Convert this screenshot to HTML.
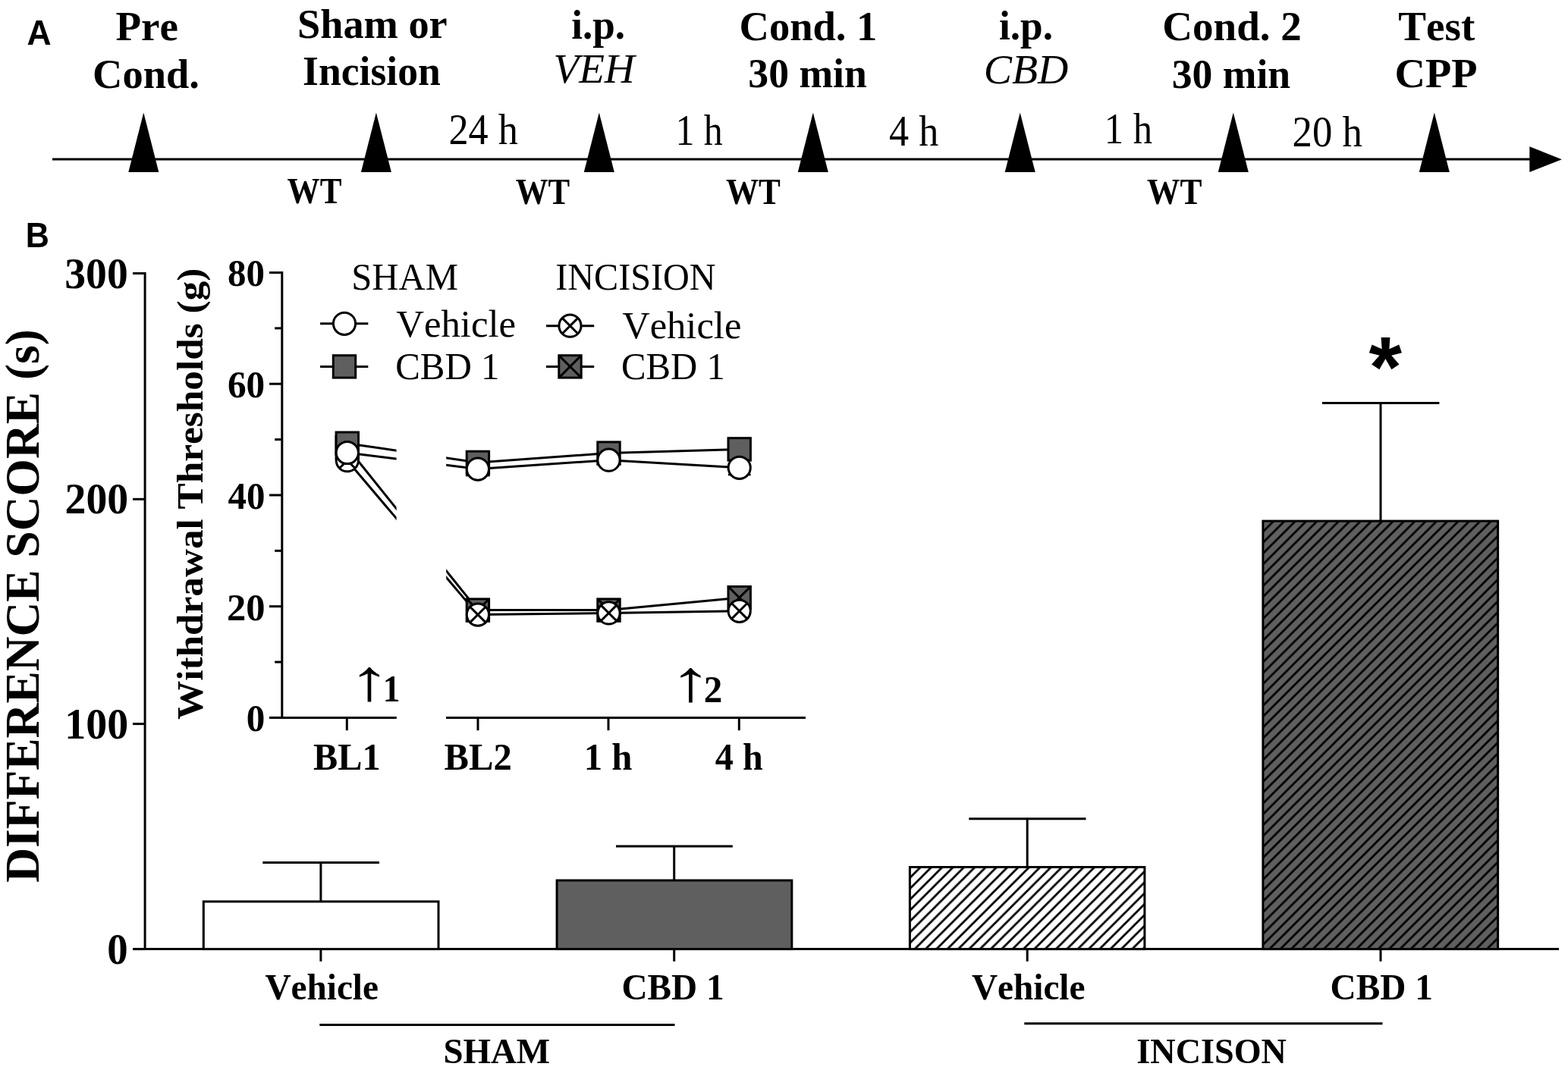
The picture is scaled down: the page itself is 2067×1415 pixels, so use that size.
<!DOCTYPE html>
<html lang="en">
<head>
<meta charset="utf-8">
<title>Conditioned place preference: timeline and difference score</title>
<style>
html,body{margin:0;padding:0;background:#fff;}
body{width:2067px;height:1415px;overflow:hidden;}
svg{display:block;}
text{fill:#000;white-space:pre;font-kerning:none;}
.b{font-family:"Liberation Serif", "DejaVu Serif", serif;font-weight:bold;}
.r{font-family:"Liberation Serif", "DejaVu Serif", serif;font-weight:normal;}
.ri{font-family:"Liberation Serif", "DejaVu Serif", serif;font-weight:normal;font-style:italic;}
.a{font-family:"Liberation Sans", "DejaVu Sans", sans-serif;font-weight:bold;}
line{stroke:#000;}
</style>
</head>
<body>
<svg width="2067" height="1415" viewBox="0 0 2067 1415">
<defs>
<pattern id="hw" width="14.33" height="14.33" patternUnits="userSpaceOnUse" x="6.98" y="0"><rect width="14.33" height="14.33" fill="#fff"/><path d="M-14.33 14.33L14.33 -14.33M0 14.33L14.33 0M0 28.66L28.66 0" stroke="#000" stroke-width="2.8" fill="none"/></pattern>
<pattern id="hg" width="14.33" height="14.33" patternUnits="userSpaceOnUse" x="1.75" y="0"><rect width="14.33" height="14.33" fill="#5f5f5f"/><path d="M-14.33 14.33L14.33 -14.33M0 14.33L14.33 0M0 28.66L28.66 0" stroke="#000" stroke-width="2.8" fill="none"/></pattern>
<clipPath id="brk"><rect x="372" y="340" width="150.6" height="620"/><rect x="588.2" y="340" width="480" height="620"/></clipPath>
</defs>
<rect width="2067" height="1415" fill="#fff"/>
<g id="panel-a">
<text class="a" font-size="45.5" transform="translate(35.54,58.8) scale(0.9775,1)">A</text>
<line x1="69" y1="210.1" x2="2020" y2="210.1" stroke-width="3"/>
<polygon points="2058.9,210.3 2016.3,193.2 2016.3,227" fill="#000"/>
<polygon points="189.3,148.6 209.3,227 169.3,227" fill="#000"/>
<polygon points="495.9,148.6 515.9,227 475.9,227" fill="#000"/>
<polygon points="789.8,148.6 809.8,227 769.8,227" fill="#000"/>
<polygon points="1071.8,148.6 1091.8,227 1051.8,227" fill="#000"/>
<polygon points="1344.7,148.6 1364.7,227 1324.7,227" fill="#000"/>
<polygon points="1625.8,148.6 1645.8,227 1605.8,227" fill="#000"/>
<polygon points="1890.8,148.6 1910.8,227 1870.8,227" fill="#000"/>
<text class="b" font-size="55" transform="translate(152.39,52.6) scale(1.0009,1)">Pre</text>
<text class="b" font-size="55" transform="translate(122.06,115.5) scale(0.9906,1)">Cond.</text>
<text class="b" font-size="55" transform="translate(392,49.8) scale(0.9881,1)">Sham or</text>
<text class="b" font-size="55" transform="translate(399.11,112.3) scale(0.9746,1)">Incision</text>
<text class="b" font-size="55" transform="translate(753.16,50.6) scale(0.9654,1)">i.p.</text>
<text class="ri" font-size="55" transform="translate(729.45,108.7) scale(1.0035,1)">VEH</text>
<text class="b" font-size="55" transform="translate(974.56,52.6) scale(0.9916,1)">Cond. 1</text>
<text class="b" font-size="55" transform="translate(986.34,115.3) scale(0.9760,1)">30 min</text>
<text class="b" font-size="55" transform="translate(1316.95,51.6) scale(0.9683,1)">i.p.</text>
<text class="ri" font-size="55" transform="translate(1296.78,109.9) scale(1.0137,1)">CBD</text>
<text class="b" font-size="55" transform="translate(1532.23,52.8) scale(1.0015,1)">Cond. 2</text>
<text class="b" font-size="55" transform="translate(1544.64,115.8) scale(0.9760,1)">30 min</text>
<text class="b" font-size="55" transform="translate(1843.32,52.6) scale(1.0018,1)">Test</text>
<text class="b" font-size="55" transform="translate(1838.48,115.3) scale(1.0203,1)">CPP</text>
<text class="r" font-size="56" transform="translate(591.43,189.8) scale(0.9324,1)">24 h</text>
<text class="r" font-size="56" transform="translate(890.49,191) scale(0.8898,1)">1 h</text>
<text class="r" font-size="56" transform="translate(1172.11,191.8) scale(0.9314,1)">4 h</text>
<text class="r" font-size="56" transform="translate(1455.72,188.6) scale(0.9037,1)">1 h</text>
<text class="r" font-size="56" transform="translate(1703.61,192.8) scale(0.9418,1)">20 h</text>
<text class="b" font-size="48" transform="translate(378.5,268.4) scale(0.8995,1)">WT</text>
<text class="b" font-size="48" transform="translate(679.71,268.6) scale(0.8944,1)">WT</text>
<text class="b" font-size="48" transform="translate(956.9,268.8) scale(0.8995,1)">WT</text>
<text class="b" font-size="48" transform="translate(1512.1,269.3) scale(0.9059,1)">WT</text>
</g>
<g id="panel-b">
<text class="a" font-size="45.5" transform="translate(33.74,326.3) scale(0.9476,1)">B</text>
<line x1="191.1" y1="359" x2="191.1" y2="1253.1" stroke-width="3"/>
<line x1="175" y1="1251.6" x2="2055" y2="1251.6" stroke-width="3"/>
<line x1="175" y1="1251.6" x2="191.1" y2="1251.6" stroke-width="3"/>
<text class="b" font-size="57" transform="translate(141.29,1271) scale(0.9618,1)">0</text>
<line x1="175" y1="954.6" x2="191.1" y2="954.6" stroke-width="3"/>
<text class="b" font-size="57" transform="translate(85.27,973.97) scale(0.9822,1)">100</text>
<line x1="175" y1="658.3" x2="191.1" y2="658.3" stroke-width="3"/>
<text class="b" font-size="57" transform="translate(85.48,676.93) scale(0.9797,1)">200</text>
<line x1="175" y1="360.5" x2="191.1" y2="360.5" stroke-width="3"/>
<text class="b" font-size="57" transform="translate(85.26,379.9) scale(0.9763,1)">300</text>
<text class="b" font-size="63.5" transform="translate(51.3,1163.76) rotate(-90) scale(0.9992,1)">DIFFERENCE SCORE (s)</text>
<line x1="422.9" y1="1137.6" x2="422.9" y2="1188.9" stroke-width="3"/>
<line x1="346.3" y1="1137.6" x2="500" y2="1137.6" stroke-width="3"/>
<rect x="268.3" y="1188.9" width="309.7" height="62.7" fill="#fff" stroke="#000" stroke-width="3.0"/>
<line x1="422.9" y1="1251.6" x2="422.9" y2="1267.8" stroke-width="3"/>
<line x1="888.7" y1="1115.9" x2="888.7" y2="1161" stroke-width="3"/>
<line x1="812" y1="1115.9" x2="965.8" y2="1115.9" stroke-width="3"/>
<rect x="734.1" y="1161" width="309.7" height="90.6" fill="#5f5f5f" stroke="#000" stroke-width="3.0"/>
<line x1="888.7" y1="1251.6" x2="888.7" y2="1267.8" stroke-width="3"/>
<line x1="1354.2" y1="1079.8" x2="1354.2" y2="1143.5" stroke-width="3"/>
<line x1="1277.3" y1="1079.8" x2="1431.5" y2="1079.8" stroke-width="3"/>
<rect x="1199.4" y="1143.5" width="309.5" height="108.1" fill="url(#hw)" stroke="#000" stroke-width="3.0"/>
<line x1="1354.2" y1="1251.6" x2="1354.2" y2="1267.8" stroke-width="3"/>
<line x1="1820" y1="531.5" x2="1820" y2="687.1" stroke-width="3"/>
<line x1="1743" y1="531.5" x2="1897.4" y2="531.5" stroke-width="3"/>
<rect x="1664.9" y="687.1" width="309.7" height="564.5" fill="url(#hg)" stroke="#000" stroke-width="3.0"/>
<line x1="1820" y1="1251.6" x2="1820" y2="1267.8" stroke-width="3"/>
<text class="b" font-size="48.5" transform="translate(349.38,1317.5) scale(0.9744,1)">Vehicle</text>
<text class="b" font-size="48.5" transform="translate(819.41,1317.5) scale(0.9740,1)">CBD 1</text>
<text class="b" font-size="48.5" transform="translate(1280.88,1317.5) scale(0.9744,1)">Vehicle</text>
<text class="b" font-size="48.5" transform="translate(1753.6,1317.5) scale(0.9748,1)">CBD 1</text>
<line x1="421.3" y1="1351.5" x2="889.5" y2="1351.5" stroke-width="3"/>
<line x1="1350.3" y1="1349.7" x2="1822.5" y2="1349.7" stroke-width="3"/>
<text class="b" font-size="47.3" transform="translate(584.39,1402) scale(0.9913,1)">SHAM</text>
<text class="b" font-size="47.3" transform="translate(1498.35,1402.4) scale(0.9765,1)">INCISON</text>
<text class="a" font-size="113.56" transform="translate(1804.57,522.92) scale(0.9858,1)">*</text>
</g>
<g id="inset">
<line x1="371.8" y1="358" x2="371.8" y2="947.9" stroke-width="3"/>
<line x1="355" y1="946.4" x2="522.8" y2="946.4" stroke-width="3"/>
<line x1="588" y1="946.4" x2="1061.9" y2="946.4" stroke-width="3"/>
<line x1="355" y1="946.4" x2="371.8" y2="946.4" stroke-width="3"/>
<text class="b" font-size="50" transform="translate(324.71,964.3) scale(0.9835,1)">0</text>
<line x1="355" y1="799.67" x2="371.8" y2="799.67" stroke-width="3"/>
<text class="b" font-size="50" transform="translate(298.9,817.57) scale(1.0109,1)">20</text>
<line x1="355" y1="652.95" x2="371.8" y2="652.95" stroke-width="3"/>
<text class="b" font-size="50" transform="translate(300.44,670.85) scale(0.9789,1)">40</text>
<line x1="355" y1="506.22" x2="371.8" y2="506.22" stroke-width="3"/>
<text class="b" font-size="50" transform="translate(299.93,524.12) scale(0.9854,1)">60</text>
<line x1="355" y1="359.5" x2="371.8" y2="359.5" stroke-width="3"/>
<text class="b" font-size="50" transform="translate(300.06,377.4) scale(0.9785,1)">80</text>
<line x1="362.2" y1="873.04" x2="371.8" y2="873.04" stroke-width="3"/>
<line x1="362.2" y1="726.31" x2="371.8" y2="726.31" stroke-width="3"/>
<line x1="362.2" y1="579.59" x2="371.8" y2="579.59" stroke-width="3"/>
<line x1="362.2" y1="432.86" x2="371.8" y2="432.86" stroke-width="3"/>
<text class="b" font-size="49" transform="translate(267,949.12) rotate(-90) scale(1.0467,1)">Withdrawal Thresholds (g)</text>
<line x1="457.3" y1="946.4" x2="457.3" y2="963.2" stroke-width="3"/>
<line x1="630" y1="946.4" x2="630" y2="963.2" stroke-width="3"/>
<line x1="802" y1="946.4" x2="802" y2="963.2" stroke-width="3"/>
<line x1="974.3" y1="946.4" x2="974.3" y2="963.2" stroke-width="3"/>
<text class="b" font-size="50" transform="translate(413.01,1014.9) scale(0.9654,1)">BL1</text>
<text class="b" font-size="50" transform="translate(585.6,1014.9) scale(0.9735,1)">BL2</text>
<text class="b" font-size="50" transform="translate(769.64,1014.9) scale(0.9781,1)">1 h</text>
<text class="b" font-size="50" transform="translate(942.85,1014.9) scale(0.9625,1)">4 h</text>
<text class="r" font-size="77" transform="translate(459.08,922.79) scale(1.4479,1)">↑</text>
<text class="b" font-size="50" transform="translate(504.81,925) scale(0.9088,1)">1</text>
<text class="r" font-size="77" transform="translate(882.16,923.59) scale(1.4590,1)">↑</text>
<text class="b" font-size="50" transform="translate(927.86,925.8) scale(0.9831,1)">2</text>
<text class="r" font-size="50" transform="translate(463.26,381.6) scale(0.9740,1)">SHAM</text>
<text class="r" font-size="50" transform="translate(732.16,382.1) scale(0.9640,1)">INCISION</text>
<text class="r" font-size="50" transform="translate(522.24,443.5) scale(1.0153,1)">Vehicle</text>
<text class="r" font-size="50" transform="translate(521.19,500) scale(0.9788,1)">CBD 1</text>
<text class="r" font-size="50" transform="translate(820.14,446.1) scale(1.0114,1)">Vehicle</text>
<text class="r" font-size="50" transform="translate(819,499.7) scale(0.9751,1)">CBD 1</text>
<line x1="422.1" y1="426.8" x2="485.3" y2="426.8" stroke-width="3"/>
<circle cx="454" cy="426.8" r="14.6" fill="#fff" stroke="#000" stroke-width="3.0"/>
<line x1="422.1" y1="483.4" x2="485.3" y2="483.4" stroke-width="3"/>
<rect x="439.3" y="468.7" width="29.4" height="29.4" fill="#5f5f5f" stroke="#000" stroke-width="3.0"/>
<line x1="720" y1="429.7" x2="783.2" y2="429.7" stroke-width="3"/>
<circle cx="751.5" cy="429.7" r="14.6" fill="#fff" stroke="#000" stroke-width="3.0"/>
<path d="M741.18 419.38L761.82 440.02M741.18 440.02L761.82 419.38" fill="none" stroke="#000" stroke-width="3.0"/>
<line x1="720" y1="483.4" x2="783.2" y2="483.4" stroke-width="3"/>
<rect x="736.8" y="468.7" width="29.4" height="29.4" fill="#5f5f5f" stroke="#000" stroke-width="3.0"/>
<path d="M736.8 468.7L766.2 498.1M736.8 498.1L766.2 468.7" fill="none" stroke="#000" stroke-width="3.0"/>
<g clip-path="url(#brk)">
<polyline points="457.8,607.2 629.9,810.6 802.5,808.4 974.7,805.8" fill="none" stroke="#000" stroke-width="3.0"/>
<polyline points="457.8,590 629.9,804.6 802.5,804.6 974.7,788.2" fill="none" stroke="#000" stroke-width="3.0"/>
<polyline points="457.8,584.7 629.9,609.9 802.5,597.6 974.7,592.4" fill="none" stroke="#000" stroke-width="3.0"/>
<polyline points="457.8,597 629.9,618.6 802.5,606.7 974.7,616.8" fill="none" stroke="#000" stroke-width="3.0"/>
</g>
<line x1="614" y1="627" x2="645.8" y2="627" stroke-width="2.6"/>
<line x1="960" y1="626" x2="989.6" y2="626" stroke-width="2.6"/>
<rect x="443.1" y="575.3" width="29.4" height="29.4" fill="#5f5f5f" stroke="#000" stroke-width="3.0"/>
<path d="M443.1 575.3L472.5 604.7M443.1 604.7L472.5 575.3" fill="none" stroke="#000" stroke-width="3.0"/>
<circle cx="457.8" cy="607.2" r="14.6" fill="#fff" stroke="#000" stroke-width="3.0"/>
<path d="M447.48 596.88L468.12 617.52M447.48 617.52L468.12 596.88" fill="none" stroke="#000" stroke-width="3.0"/>
<rect x="443.1" y="570" width="29.4" height="29.4" fill="#5f5f5f" stroke="#000" stroke-width="3.0"/>
<circle cx="457.8" cy="597" r="14.6" fill="#fff" stroke="#000" stroke-width="3.0"/>
<rect x="615.2" y="789.9" width="29.4" height="29.4" fill="#5f5f5f" stroke="#000" stroke-width="3.0"/>
<path d="M615.2 789.9L644.6 819.3M615.2 819.3L644.6 789.9" fill="none" stroke="#000" stroke-width="3.0"/>
<circle cx="629.9" cy="810.6" r="14.6" fill="#fff" stroke="#000" stroke-width="3.0"/>
<path d="M619.58 800.28L640.22 820.92M619.58 820.92L640.22 800.28" fill="none" stroke="#000" stroke-width="3.0"/>
<rect x="615.2" y="595.2" width="29.4" height="29.4" fill="#5f5f5f" stroke="#000" stroke-width="3.0"/>
<circle cx="629.9" cy="618.6" r="14.6" fill="#fff" stroke="#000" stroke-width="3.0"/>
<rect x="787.8" y="789.9" width="29.4" height="29.4" fill="#5f5f5f" stroke="#000" stroke-width="3.0"/>
<path d="M787.8 789.9L817.2 819.3M787.8 819.3L817.2 789.9" fill="none" stroke="#000" stroke-width="3.0"/>
<circle cx="802.5" cy="808.4" r="14.6" fill="#fff" stroke="#000" stroke-width="3.0"/>
<path d="M792.18 798.08L812.82 818.72M792.18 818.72L812.82 798.08" fill="none" stroke="#000" stroke-width="3.0"/>
<rect x="787.8" y="582.9" width="29.4" height="29.4" fill="#5f5f5f" stroke="#000" stroke-width="3.0"/>
<circle cx="802.5" cy="606.7" r="14.6" fill="#fff" stroke="#000" stroke-width="3.0"/>
<rect x="960" y="773.5" width="29.4" height="29.4" fill="#5f5f5f" stroke="#000" stroke-width="3.0"/>
<path d="M960 773.5L989.4 802.9M960 802.9L989.4 773.5" fill="none" stroke="#000" stroke-width="3.0"/>
<circle cx="974.7" cy="805.8" r="14.6" fill="#fff" stroke="#000" stroke-width="3.0"/>
<path d="M964.38 795.48L985.02 816.12M964.38 816.12L985.02 795.48" fill="none" stroke="#000" stroke-width="3.0"/>
<rect x="960" y="577.7" width="29.4" height="29.4" fill="#5f5f5f" stroke="#000" stroke-width="3.0"/>
<circle cx="974.7" cy="616.8" r="14.6" fill="#fff" stroke="#000" stroke-width="3.0"/>
</g>
</svg>
</body>
</html>
